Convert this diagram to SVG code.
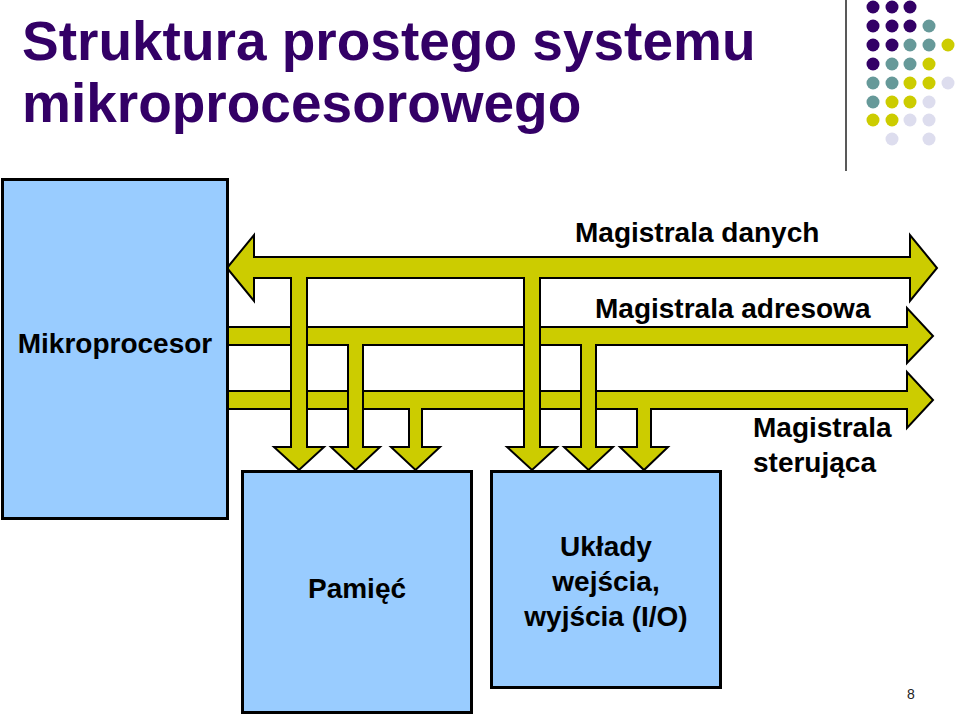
<svg xmlns="http://www.w3.org/2000/svg" width="959" height="718" viewBox="0 0 959 718">
<style>
.box{fill:#99CCFF;stroke:#000;stroke-width:3}
.bus{fill:#CCCC00;stroke:#000;stroke-width:2;stroke-linejoin:miter}
.lbl{font-family:"Liberation Sans",Arial,sans-serif;font-weight:bold;font-size:28px;fill:#000}
.ttl{font-family:"Liberation Sans",Arial,sans-serif;font-weight:bold;font-size:55px;fill:#330066}
.p{fill:#330066}.t{fill:#669999}.y{fill:#CCCC00}.l{fill:#DDDDEE}
</style>
<rect width="959" height="718" fill="#fff"/>
<g id="decoration">
<line x1="846" y1="0" x2="846" y2="171" stroke="#222" stroke-width="1.5"/>
<g>
<circle class="p" cx="873" cy="7" r="6.5"/><circle class="p" cx="892" cy="7" r="6.5"/><circle class="p" cx="910" cy="7" r="6.5"/>
<circle class="p" cx="873" cy="26" r="6.5"/><circle class="p" cx="892" cy="26" r="6.5"/><circle class="p" cx="910" cy="26" r="6.5"/><circle class="t" cx="929" cy="26" r="6.5"/>
<circle class="p" cx="873" cy="45" r="6.5"/><circle class="p" cx="892" cy="45" r="6.5"/><circle class="t" cx="910" cy="45" r="6.5"/><circle class="t" cx="929" cy="45" r="6.5"/><circle class="y" cx="948" cy="45" r="6.5"/>
<circle class="p" cx="873" cy="64" r="6.5"/><circle class="t" cx="892" cy="64" r="6.5"/><circle class="t" cx="910" cy="64" r="6.5"/><circle class="y" cx="929" cy="64" r="6.5"/>
<circle class="t" cx="873" cy="83" r="6.5"/><circle class="t" cx="892" cy="83" r="6.5"/><circle class="y" cx="910" cy="83" r="6.5"/><circle class="y" cx="929" cy="83" r="6.5"/><circle class="l" cx="948" cy="83" r="6.5"/>
<circle class="t" cx="873" cy="102" r="6.5"/><circle class="y" cx="892" cy="102" r="6.5"/><circle class="y" cx="910" cy="102" r="6.5"/><circle class="l" cx="929" cy="102" r="6.5"/>
<circle class="y" cx="873" cy="120" r="6.5"/><circle class="y" cx="892" cy="120" r="6.5"/><circle class="l" cx="910" cy="120" r="6.5"/><circle class="l" cx="929" cy="120" r="6.5"/>
<circle class="l" cx="892" cy="139" r="6.5"/><circle class="l" cx="929" cy="139" r="6.5"/>
</g>
</g>
<g id="title">
<text class="ttl" x="22" y="60">Struktura prostego systemu</text>
<text class="ttl" x="22" y="122">mikroprocesorowego</text>
</g>
<g id="connectors">
<path class="bus" d="M228,391 L907,391 L907,372 L933,400 L907,428 L907,409 L651,409 L651,447 L668,447 L644,470 L620,447 L637,447 L637,409 L422,409 L422,447 L440,447 L415.5,470 L391,447 L409,447 L409,409 L228,409 Z"/>
<path class="bus" d="M228,327 L907,327 L907,308 L933,336 L907,363 L907,345 L596,345 L596,447 L613,447 L588.5,470 L564,447 L581,447 L581,345 L363,345 L363,447 L380,447 L355.5,470 L331,447 L348,447 L348,345 L228,345 Z"/>
<path class="bus" d="M227,268 L254,235 L254,257 L910,257 L910,235 L937,268 L910,301 L910,278 L540,278 L540,447 L557,447 L532,470 L507,447 L524,447 L524,278 L307,278 L307,447 L324,447 L299,470 L274,447 L291,447 L291,278 L254,278 L254,301 Z"/>
<text class="lbl" x="575" y="242">Magistrala danych</text>
<text class="lbl" x="595" y="318">Magistrala adresowa</text>
<text class="lbl" x="753" y="437">Magistrala</text>
<text class="lbl" x="753" y="472">sterująca</text>
</g>
<g id="mikroprocesor">
<rect class="box" x="2.5" y="179.5" width="225" height="339"/>
<text class="lbl" x="115" y="353" text-anchor="middle">Mikroprocesor</text>
</g>
<g id="pamiec">
<rect class="box" x="242.5" y="471.5" width="229" height="241"/>
<text class="lbl" x="357" y="598" text-anchor="middle">Pamięć</text>
</g>
<g id="io">
<rect class="box" x="491.5" y="471.5" width="229" height="216"/>
<text class="lbl" x="606" y="556" text-anchor="middle">Układy</text>
<text class="lbl" x="606" y="591" text-anchor="middle">wejścia,</text>
<text class="lbl" x="606" y="626" text-anchor="middle">wyjścia (I/O)</text>
</g>
<g id="page-number">
<text x="911" y="699" text-anchor="middle" font-family="'Liberation Sans',Arial,sans-serif" font-size="14" fill="#222">8</text>
</g>
</svg>
